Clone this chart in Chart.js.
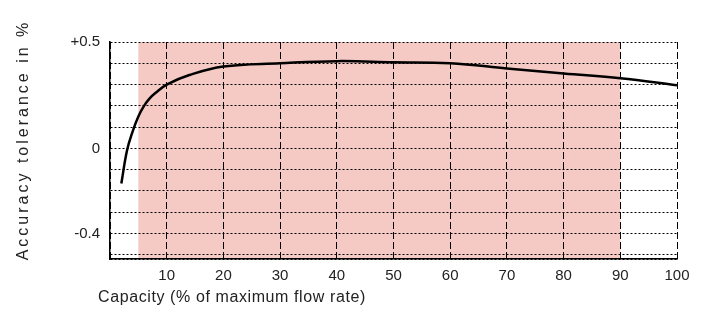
<!DOCTYPE html>
<html>
<head>
<meta charset="utf-8">
<script src="https://cdn.jsdelivr.net/npm/chart.js@4/dist/chart.umd.min.js"></script>
<style>
  html, body { margin: 0; padding: 0; background: #fff; }
  #wrap { width: 712px; height: 325px; }
</style>
</head>
<body>
<div id="wrap"><canvas id="chart"></canvas></div>
<script>
// capacity in % of max flow rate, accuracy tolerance in %
const capacity = [2, 3, 4, 5, 6, 7, 8, 10, 14, 20, 30, 40, 50, 60, 70, 80, 90, 100];
const tolerance = [-0.165, -0.01, 0.08, 0.15, 0.20, 0.235, 0.26, 0.30, 0.345, 0.385, 0.40, 0.41, 0.405, 0.40, 0.376, 0.352, 0.33, 0.297];

const xTicks = [0, 10, 20, 30, 40, 50, 60, 70, 80, 90, 100];
const xLabels = ['', '10', '20', '30', '40', '50', '60', '70', '80', '90', '100'];
const yTicks = [-0.52, -0.5, -0.4, -0.3, -0.2, -0.1, 0, 0.1, 0.2, 0.3, 0.4, 0.5];
const yLabels = { '0.5': '+0.5', '0': '0', '-0.4': '-0.4' };

const band = [5, 90]; // shaded capacity range

const fontFam = '"Liberation Sans", Arial, sans-serif';

// pink band behind the grid
const bandPlugin = {
    id: 'band',
    beforeDraw(chart) {
        const { ctx, chartArea, scales } = chart;
        const x0 = scales.x.getPixelForValue(band[0]);
        const x1 = scales.x.getPixelForValue(band[1]);
        ctx.save();
        ctx.fillStyle = '#f5cac5';
        ctx.fillRect(x0, chartArea.top, x1 - x0, chartArea.bottom - chartArea.top);
        ctx.restore();
    }
};

// axis titles
const titlesPlugin = {
    id: 'titles',
    afterDraw(chart) {
        const { ctx } = chart;
        ctx.save();
        ctx.fillStyle = '#222';
        ctx.font = '16px ' + fontFam;
        ctx.textBaseline = 'middle';
        ctx.textAlign = 'left';
        ctx.letterSpacing = '0.6px';
        ctx.fillText('Capacity (% of maximum flow rate)', 98, 298);
        ctx.translate(24, 140);
        ctx.rotate(-Math.PI / 2);
        ctx.textAlign = 'center';
        ctx.letterSpacing = '3px';
        ctx.fillText('Accuracy tolerance in %', 0, 0);
        ctx.restore();
    }
};

new Chart(document.getElementById('chart'), {
    type: 'line',
    data: {
        datasets: [{
            data: capacity.map((c, i) => ({ x: c, y: tolerance[i] })),
            borderColor: '#000',
            borderWidth: 2.5,
            pointRadius: 0,
            tension: 0.4,
            fill: false
        }]
    },
    options: {
        responsive: true,
        maintainAspectRatio: false,
        animation: false,
        layout: { padding: { left: 0, right: 35, top: 42, bottom: 0 } },
        plugins: { legend: { display: false }, tooltip: { enabled: false } },
        scales: {
            x: {
                type: 'linear',
                min: 0,
                max: 100,
                afterBuildTicks: axis => { axis.ticks = xTicks.map(v => ({ value: v })); },
                afterFit: scale => { scale.height = 66; },
                ticks: {
                    color: '#222',
                    font: { family: fontFam, size: 15 },
                    padding: 8,
                    maxRotation: 0,
                    autoSkip: false,
                    callback: (v) => xLabels[xTicks.indexOf(v)] ?? ''
                },
                grid: { color: '#000', lineWidth: 1, drawTicks: false },
                border: { color: '#000', width: 1.5, dash: [7, 3] }
            },
            y: {
                min: -0.52,
                max: 0.5,
                afterBuildTicks: axis => { axis.ticks = yTicks.map(v => ({ value: v })); },
                afterFit: scale => { scale.width = 110; },
                ticks: {
                    color: '#222',
                    font: { family: fontFam, size: 15 },
                    padding: 10,
                    autoSkip: false,
                    callback: (v) => yLabels[String(v)] ?? ''
                },
                grid: { color: '#000', lineWidth: 1, drawTicks: false },
                border: { color: '#000', width: 1.5, dash: [2, 2] }
            }
        }
    },
    plugins: [bandPlugin, titlesPlugin]
});
</script>
</body>
</html>
